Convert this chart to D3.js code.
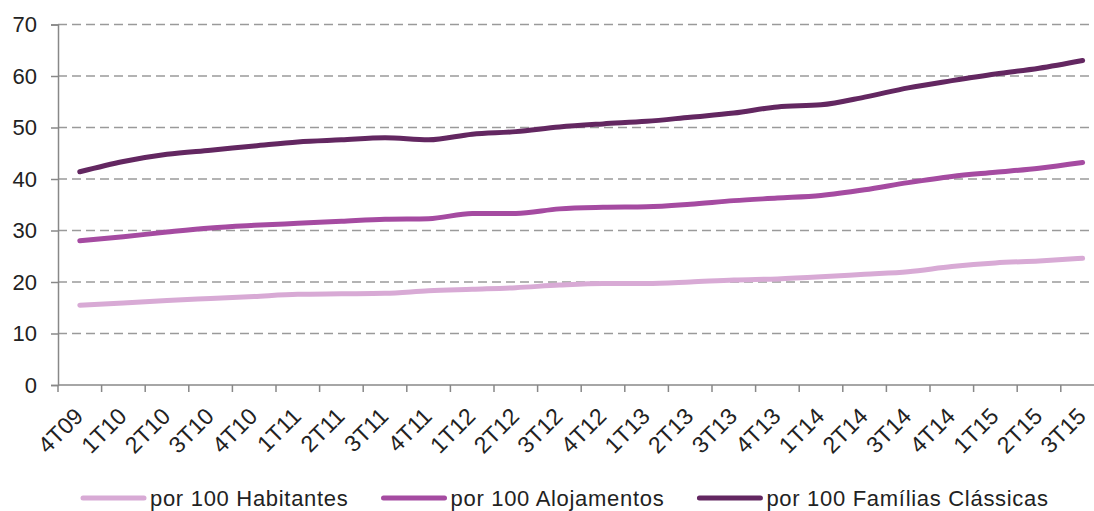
<!DOCTYPE html>
<html>
<head>
<meta charset="utf-8">
<script src="https://cdn.jsdelivr.net/npm/d3@7"></script>
<style>
  html, body { margin: 0; padding: 0; background: #fff; }
  svg { display: block; }
  text { font-family: "Liberation Sans", Arial, sans-serif; fill: #222; }
</style>
</head>
<body>
<svg id="chart" width="1094" height="511"></svg>
<script>
const categories = ["4T09","1T10","2T10","3T10","4T10","1T11","2T11","3T11","4T11","1T12","2T12","3T12","4T12","1T13","2T13","3T13","4T13","1T14","2T14","3T14","4T14","1T15","2T15","3T15"];
const habitantes = [15.5,15.9,16.4,16.8,17.2,17.6,17.7,17.8,18.3,18.6,18.9,19.4,19.7,19.7,20.0,20.4,20.6,21.0,21.5,22.0,23.0,23.7,24.1,24.6];
const alojamentos = [28.0,28.8,29.7,30.5,31.0,31.4,31.8,32.2,32.3,33.3,33.3,34.2,34.5,34.6,35.1,35.8,36.3,36.8,37.9,39.3,40.5,41.3,42.1,43.2];
const familias = [41.4,43.4,44.8,45.6,46.4,47.2,47.6,48.0,47.6,48.7,49.2,50.1,50.7,51.2,52.0,52.8,54.0,54.4,55.9,57.7,59.1,60.4,61.5,63.0];
const seriesNames = ["por 100 Habitantes","por 100 Alojamentos","por 100 Famílias Clássicas"];
const seriesColors = ["#d8aad5","#a54ba1","#632761"];
const yTicks = [0,10,20,30,40,50,60,70];

(function () {
const series = [habitantes, alojamentos, familias];
const svg = d3.select("#chart");
const W = 1094;
const mLeft = 58, mTop = 24.5, mBottom = 385;
const step = 43.6;

const x = d3.scaleBand().domain(categories).range([mLeft, mLeft + step * categories.length]).padding(0);
const y = d3.scaleLinear().domain([0, 70]).range([mBottom, mTop]);

// gridlines
svg.append("g").selectAll("line").data(yTicks.filter(d => d > 0)).join("line")
  .attr("x1", mLeft).attr("x2", W)
  .attr("y1", d => y(d)).attr("y2", d => y(d))
  .attr("stroke", "#9a9a9a").attr("stroke-width", 1.6)
  .attr("stroke-dasharray", "9,5");

// y axis
const yAxis = svg.append("g").attr("transform", `translate(${mLeft},0)`)
  .call(d3.axisLeft(y).tickValues(yTicks).tickSize(7).tickPadding(14).tickFormat(d3.format("d")));
yAxis.select(".domain").attr("stroke", "#888").attr("stroke-width", 1.5);
yAxis.selectAll(".tick line").attr("stroke", "#888").attr("stroke-width", 1.5);
yAxis.selectAll(".tick text").style("font-size", "22px").attr("fill", "#222")
  .style("font-family", '"Liberation Sans", Arial, sans-serif');

// x axis
const xg = svg.append("g");
xg.append("line").attr("x1", mLeft).attr("x2", W).attr("y1", mBottom).attr("y2", mBottom)
  .attr("stroke", "#888").attr("stroke-width", 1.5);
xg.selectAll("line.tick").data(categories).join("line").attr("class", "tick")
  .attr("x1", d => x(d)).attr("x2", d => x(d))
  .attr("y1", mBottom).attr("y2", mBottom + 7)
  .attr("stroke", "#888").attr("stroke-width", 1.5);
xg.selectAll("text").data(categories).join("text")
  .attr("transform", d => `translate(${x(d) + x.bandwidth() / 2 - 1},${mBottom + 27}) rotate(-45)`)
  .attr("text-anchor", "end")
  .attr("dy", "0.35em")
  .style("font-size", "23px")
  .text(d => d);

// lines
const line = d3.line()
  .x((d, i) => x(categories[i]) + x.bandwidth() / 2)
  .y(d => y(d))
  .curve(d3.curveMonotoneX);

svg.append("g").selectAll("path").data(series).join("path")
  .attr("d", d => line(d))
  .attr("fill", "none")
  .attr("stroke", (d, i) => seriesColors[i])
  .attr("stroke-width", 5)
  .attr("stroke-linecap", "round")
  .attr("stroke-linejoin", "round");

// legend
const lg = svg.append("g");
let lx = 83;
const ly = 498;
seriesNames.forEach((name, i) => {
  lg.append("line").attr("x1", lx).attr("x2", lx + 61).attr("y1", ly).attr("y2", ly)
    .attr("stroke", seriesColors[i]).attr("stroke-width", 5).attr("stroke-linecap", "round");
  const t = lg.append("text").attr("x", lx + 67).attr("y", ly).attr("dy", "0.36em")
    .style("font-size", "22px").style("letter-spacing", "0.7px").text(name);
  const w = t.node().getComputedTextLength();
  lx = lx + 67 + w + 35;
});
})();
</script>
</body>
</html>
